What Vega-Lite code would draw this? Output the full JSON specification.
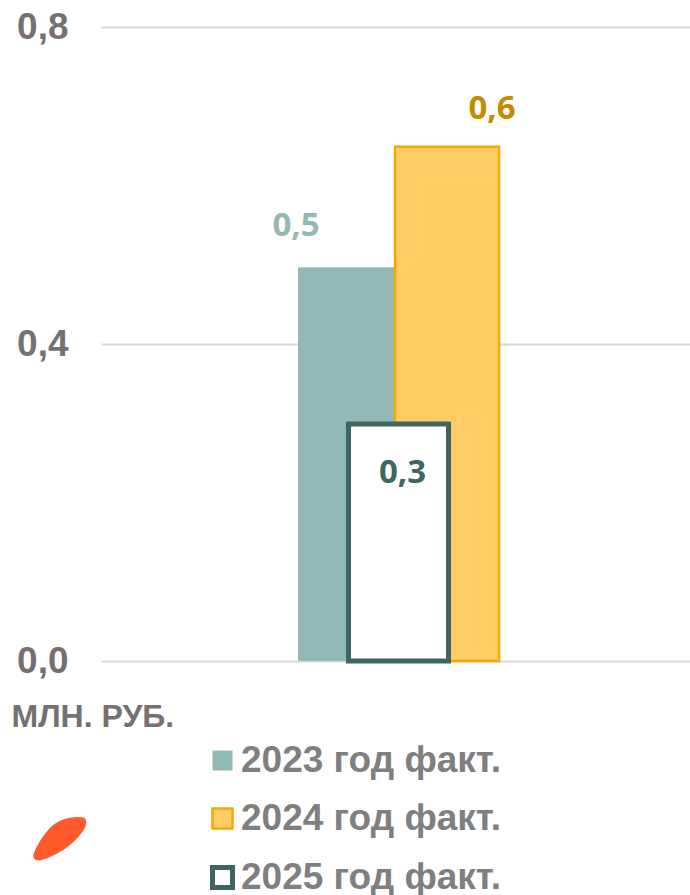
{
"$schema":"https://vega.github.io/schema/vega-lite/v6.json",
"width":589,"height":634,
"autosize":"none",
"padding":{"left":101,"top":27,"right":0,"bottom":234},
"background":"white",
"config":{"view":{"stroke":null}},
"data":{"values":[
{"series":"2023 год факт.","value":0.497,"label":"0,5"},
{"series":"2024 год факт.","value":0.649,"label":"0,6"},
{"series":"2025 год факт.","value":0.299,"label":"0,3"}
]},
"resolve":{"scale":{"x":"independent"}},
"encoding":{
"y":{"field":"value","type":"quantitative","stack":null,"scale":{"domain":[0,0.8],"nice":false},
"axis":{"values":[0,0.4,0.8],"labelExpr":"replace(format(datum.value,'.1f'),'.',',')","domain":false,"ticks":false,"grid":true,"gridColor":"#d9d9d9","gridWidth":2,"labelFont":"Liberation Sans","labelFontWeight":"bold","labelFontSize":37,"labelColor":"#767171","labelPadding":33,
"title":"МЛН. РУБ.","titleAngle":0,"titleX":-90,"titleY":689,"titleAlign":"left","titleBaseline":"middle","titleFont":"Liberation Sans","titleFontWeight":"bold","titleFontSize":32,"titleColor":"#767171"}}
},
"layer":[
{"layer":[
{"transform":[{"filter":"datum.series==='2023 год факт.'"}],"mark":{"type":"bar","width":100,"clip":false}},
{"transform":[{"filter":"datum.series==='2024 год факт.'"}],"mark":{"type":"bar","width":104,"xOffset":-2,"clip":false}},
{"transform":[{"filter":"datum.series==='2025 год факт.'"}],"mark":{"type":"bar","width":100,"clip":false}},
{"transform":[{"filter":"datum.series==='2023 год факт.'"}],"mark":{"type":"text","font":"Open Sans","fontWeight":"bold","fontSize":33,"xOffset":-52,"yOffset":-41},"encoding":{"text":{"field":"label"},"fill":{"value":"#93b9b4"},"stroke":{"value":null},"strokeWidth":{"value":0}}},
{"transform":[{"filter":"datum.series==='2024 год факт.'"}],"mark":{"type":"text","font":"Open Sans","fontWeight":"bold","fontSize":33,"xOffset":43,"yOffset":-38},"encoding":{"text":{"field":"label"},"fill":{"value":"#c48a00"},"stroke":{"value":null},"strokeWidth":{"value":0}}},
{"transform":[{"filter":"datum.series==='2025 год факт.'"}],"mark":{"type":"text","font":"Open Sans","fontWeight":"bold","fontSize":33,"xOffset":4,"yOffset":49},"encoding":{"text":{"field":"label"},"fill":{"value":"#3f6462"},"stroke":{"value":null},"strokeWidth":{"value":0}}}
],
"encoding":{
"x":{"field":"series","type":"nominal","axis":null,"sort":null,
"scale":{"type":"point","domain":["a","b","c","d","2023 год факт.","2025 год факт.","2024 год факт.","e","f","g","h"],"padding":0.83,"align":0.536}},
"fill":{"field":"series","type":"nominal","scale":{"domain":["2023 год факт.","2024 год факт.","2025 год факт."],"range":["#93b9b4","#ffcc66","#ffffff"]},
"legend":{"title":null,"orient":"none","legendX":103,"legendY":715,"symbolType":"square","symbolSize":400,"labelFont":"Liberation Sans","labelFontWeight":"bold","labelFontSize":37,"labelColor":"#7f7f7f","labelOffset":0,"rowPadding":20,"labelLimit":400,"symbolOpacity":1}},
"stroke":{"field":"series","type":"nominal","scale":{"domain":["2023 год факт.","2024 год факт.","2025 год факт."],"range":["#93b9b4","#f5a800","#3f6462"]},"legend":{"title":null}},
"strokeWidth":{"field":"series","type":"nominal","scale":{"type":"ordinal","domain":["2023 год факт.","2024 год факт.","2025 год факт."],"range":[0,2.5,5]},"legend":{"title":null}}
}},
{"data":{"values":[{"mark_x":-41,"mark_y":-0.2235}]},
"mark":{"type":"point","filled":true,"clip":false,"opacity":1,"size":2809,"fill":"#ff5a2b","stroke":null,"shape":"M -0.98 0.55 C -0.8 0.15 -0.55 -0.25 -0.25 -0.5 C 0.05 -0.75 0.55 -0.85 0.88 -0.78 C 1.05 -0.72 1.02 -0.45 0.82 -0.2 C 0.45 0.3 -0.05 0.6 -0.6 0.8 C -0.85 0.9 -1.08 0.82 -0.98 0.55 Z"},
"encoding":{
"x":{"field":"mark_x","type":"quantitative","axis":null,"scale":{"domain":[0,589],"nice":false,"zero":false}},
"y":{"field":"mark_y","type":"quantitative"}
}}
]
}
